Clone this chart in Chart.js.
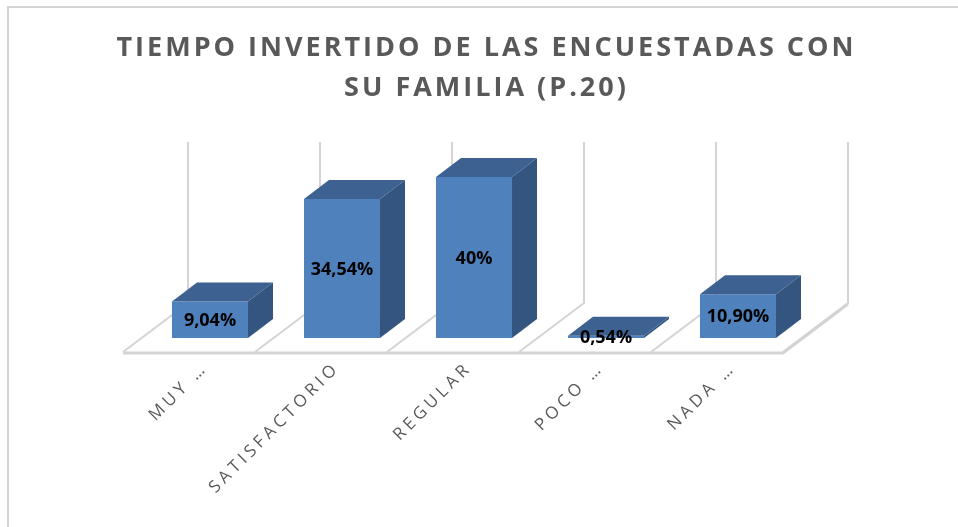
<!DOCTYPE html>
<html lang="es">
  <head>
    <meta charset="UTF-8" />
    <title>Tiempo invertido con su familia</title>
    <style>
      html, body {
        margin: 0;
        padding: 0;
        background: #fff;
      }
      canvas {
        display: block;
      }
    </style>
  </head>
  <body>
    <canvas id="chart" width="958" height="527"></canvas>

    <script src="https://cdn.jsdelivr.net/npm/chart.js"></script>

    <script>
      const titleLines = ['TIEMPO INVERTIDO DE LAS ENCUESTADAS CON', 'SU FAMILIA (P.20)'];
      const categories = ['MUY …', 'SATISFACTORIO', 'REGULAR', 'POCO …', 'NADA …'];
      const values = [9.04, 34.54, 40, 0.54, 10.9];
      const valueLabels = ['9,04%', '34,54%', '40%', '0,54%', '10,90%'];

      // fake 3d offsets (px)
      const barDepth = { dx: 25, dy: -19 };
      const floorFront = { dx: -21, dy: 14 };
      const floorBack = { dx: 44, dy: -35 };

      const gray = '#d4d4d4';

      const fake3d = {
        id: 'fake3d',
        beforeDraw(chart) {
          const ctx = chart.ctx;
          ctx.save();
          ctx.strokeStyle = gray;
          ctx.lineWidth = 2;
          ctx.strokeRect(8, 7, 970, 540);
          ctx.restore();
          ctx.letterSpacing = '3px';
        },
        beforeDatasetsDraw(chart) {
          const ctx = chart.ctx;
          ctx.letterSpacing = '0px';
          const { left, right } = chart.chartArea;
          const xs = chart.scales.x;
          const ys = chart.scales.y;
          const base = ys.getPixelForValue(0);
          const top = ys.getPixelForValue(ys.max);
          const step = xs.getPixelForValue(1) - xs.getPixelForValue(0);

          ctx.save();
          // floor
          ctx.beginPath();
          ctx.moveTo(left + floorFront.dx, base + floorFront.dy);
          ctx.lineTo(right + floorFront.dx, base + floorFront.dy);
          ctx.lineTo(right + floorBack.dx, base + floorBack.dy);
          ctx.lineTo(left + floorBack.dx, base + floorBack.dy);
          ctx.closePath();
          ctx.fillStyle = '#fff';
          ctx.fill();

          ctx.strokeStyle = gray;
          ctx.lineWidth = 3;
          ctx.beginPath();
          ctx.moveTo(left + floorFront.dx, base + floorFront.dy + 1);
          ctx.lineTo(right + floorFront.dx, base + floorFront.dy + 1);
          ctx.lineTo(right + floorBack.dx, base + floorBack.dy + 1);
          ctx.stroke();

          ctx.lineWidth = 2;
          for (let i = 0; i <= categories.length; i++) {
            const b = xs.getPixelForValue(0) - step / 2 + i * step;
            ctx.beginPath();
            ctx.moveTo(b + floorFront.dx, base + floorFront.dy);
            ctx.lineTo(b + floorBack.dx, base + floorBack.dy);
            ctx.lineTo(b + floorBack.dx, top + floorBack.dy);
            ctx.stroke();
          }
          ctx.restore();
        },
        afterDatasetsDraw(chart) {
          const ctx = chart.ctx;
          const bars = chart.getDatasetMeta(0).data;
          ctx.save();
          bars.forEach((bar, i) => {
            const { x, y, base, width } = bar.getProps(['x', 'y', 'base', 'width'], true);
            const x0 = x - width / 2;
            const x1 = x + width / 2;
            // top
            ctx.beginPath();
            ctx.moveTo(x0, y);
            ctx.lineTo(x0 + barDepth.dx, y + barDepth.dy);
            ctx.lineTo(x1 + barDepth.dx, y + barDepth.dy);
            ctx.lineTo(x1, y);
            ctx.closePath();
            ctx.fillStyle = '#3d6291';
            ctx.fill();
            // side
            ctx.beginPath();
            ctx.moveTo(x1, y);
            ctx.lineTo(x1 + barDepth.dx, y + barDepth.dy);
            ctx.lineTo(x1 + barDepth.dx, base + barDepth.dy);
            ctx.lineTo(x1, base);
            ctx.closePath();
            ctx.fillStyle = '#34557f';
            ctx.fill();
          });
          ctx.font = 'bold 18px "Open Sans"';
          ctx.fillStyle = '#000';
          ctx.textAlign = 'center';
          ctx.textBaseline = 'middle';
          bars.forEach((bar, i) => {
            const { x, y, base } = bar.getProps(['x', 'y', 'base'], true);
            ctx.fillText(valueLabels[i], x, (y + base) / 2 + 1);
          });
          ctx.restore();
          // tick labels are drawn after this (ticks.z = 1)
          ctx.letterSpacing = '4px';
        },
        afterDraw(chart) {
          chart.ctx.letterSpacing = '0px';
        },
      };

      new Chart(document.getElementById('chart'), {
        type: 'bar',
        data: {
          labels: categories,
          datasets: [
            {
              data: values,
              backgroundColor: '#4f81bd',
              borderWidth: 0,
              barPercentage: 0.576,
              categoryPercentage: 1,
            },
          ],
        },
        options: {
          responsive: false,
          animation: false,
          events: [],
          layout: { padding: { left: 15, right: 0, top: 0, bottom: 0 } },
          plugins: {
            legend: { display: false },
            tooltip: { enabled: false },
            title: {
              display: true,
              text: titleLines,
              color: '#595959',
              font: { family: 'Open Sans', size: 27, weight: 'bold', lineHeight: 40 / 27 },
              padding: { top: 28, bottom: 69 },
            },
          },
          scales: {
            x: {
              grid: { display: false, drawTicks: false },
              border: { display: false },
              ticks: {
                color: '#595959',
                font: { family: 'Open Sans', size: 17 },
                minRotation: 45,
                maxRotation: 45,
                autoSkip: false,
                padding: 20,
                labelOffset: -5,
                z: 1,
              },
              afterFit(scale) {
                scale.height = 189;
              },
            },
            y: {
              min: 0,
              max: 40,
              grid: { display: false },
              border: { display: false },
              ticks: { display: false },
              afterFit(scale) {
                scale.width = 129;
              },
            },
            y2: {
              position: 'right',
              grid: { display: false },
              border: { display: false },
              ticks: { display: false },
              afterFit(scale) {
                scale.width = 154;
              },
            },
          },
        },
        plugins: [fake3d],
      });
    </script>
  </body>
</html>
